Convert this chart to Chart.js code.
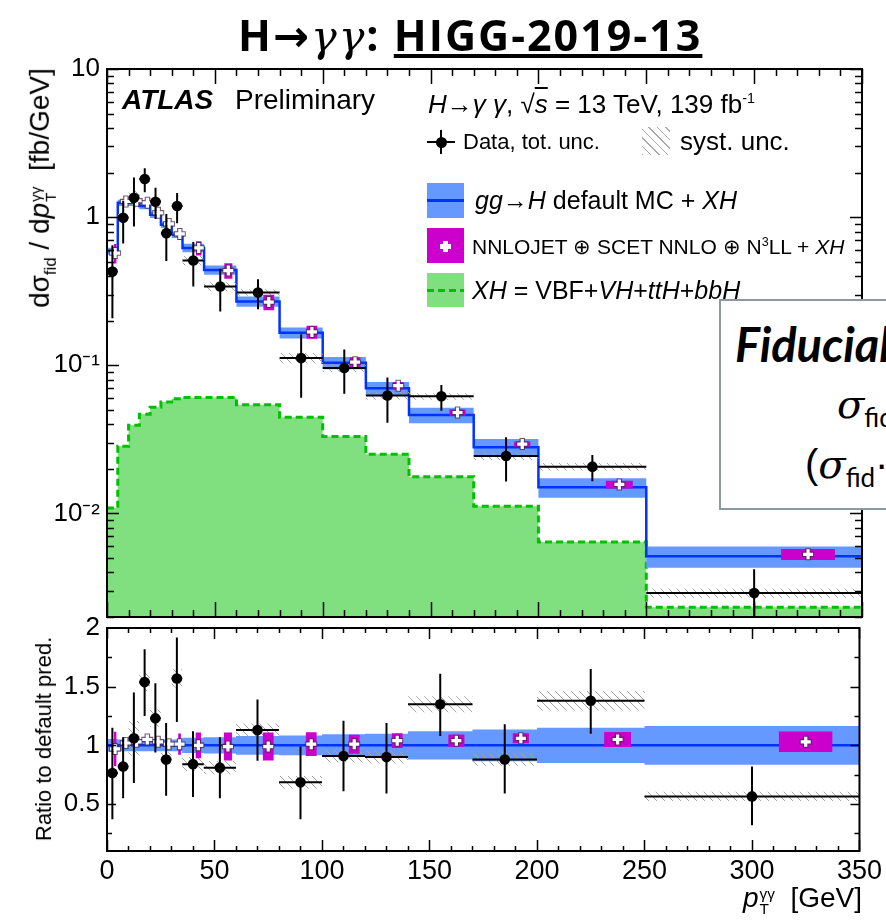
<!DOCTYPE html>
<html>
<head>
<meta charset="utf-8">
<title>H→γγ: HIGG-2019-13</title>
<script src="https://cdn.jsdelivr.net/npm/chart.js@4.4.1/dist/chart.umd.min.js"></script>
<style>
  html, body { margin: 0; padding: 0; background: #fff; }
  body { position: relative; width: 886px; height: 923px; overflow: hidden;
         font-family: 'Liberation Sans', Arial, Helvetica, sans-serif; color: #000; }
  canvas { position: absolute; left: 0; }
  #cTop { top: 0; }
  #cRatio { top: 600px; }
  .t { position: absolute; white-space: nowrap; line-height: 1; z-index: 5; }
  .m { font-family: 'DejaVu Serif', 'Liberation Serif', serif; font-style: italic; }
  .box { position: absolute; z-index: 5; }
  sub, sup { line-height: 0; }
  .ss { display: inline-flex; flex-direction: column; font-size: 0.55em; line-height: 1.0;
        vertical-align: 0.55em; margin-left: 1px; }
</style>
</head>
<body>
<canvas id="cTop" width="886" height="640"></canvas>
<canvas id="cRatio" width="886" height="323"></canvas>

<!-- page title -->
<div class="t" style="left:238px;top:5px;font:700 43px 'Open Sans',sans-serif;letter-spacing:2px;">H<span style="font-family:'DejaVu Sans'">→</span><span class="m" style="font-weight:400">γγ</span>: <u>HIGG-2019-13</u></div>

<!-- ATLAS label -->
<div class="t" style="left:122px;top:86px;font-size:28px;font-weight:700;font-style:italic;">ATLAS</div>
<div class="t" style="left:235px;top:86px;font-size:28px;">Preliminary</div>

<!-- legend -->
<div class="t" style="left:428px;top:91px;font-size:26px;"><i>H</i>→<i>γ γ</i>, √<span style="text-decoration:overline"><i>s</i></span> = 13 TeV, 139 fb<sup style="font-size:0.55em;vertical-align:0.7em">-1</sup></div>

<div class="box" style="left:427px;top:141px;width:28px;height:2px;background:#000"></div>
<div class="box" style="left:440px;top:130px;width:2px;height:24px;background:#000"></div>
<div class="box" style="left:436px;top:137px;width:11px;height:11px;border-radius:50%;background:#000"></div>
<div class="t" style="left:463px;top:131px;font-size:22px;">Data, tot. unc.</div>

<div class="box" style="left:642px;top:127px;width:28px;height:28px;background:repeating-linear-gradient(45deg, #aaa 0 1px, transparent 1px 6px);"></div>
<div class="t" style="left:680px;top:128px;font-size:26px;">syst. unc.</div>

<div class="box" style="left:427px;top:183px;width:37px;height:35px;background:#6699ff"></div>
<div class="box" style="left:427px;top:199px;width:37px;height:3px;background:#0033ff"></div>
<div class="t" style="left:475px;top:188px;font-size:25px;"><i>gg</i>→<i>H</i> default MC + <i>XH</i></div>

<div class="box" style="left:427px;top:228px;width:37px;height:35px;background:#cc00cc"></div>
<div class="box" style="left:443px;top:241px;width:5px;height:11px;background:#fff"></div>
<div class="box" style="left:440px;top:244px;width:11px;height:5px;background:#fff"></div>
<div class="t" style="left:472px;top:236px;font-size:21px;">NNLOJET ⊕ SCET NNLO ⊕ N<sup style="font-size:0.6em;vertical-align:0.6em">3</sup>LL + <i>XH</i></div>

<div class="box" style="left:427px;top:273px;width:37px;height:34px;background:#80e080"></div>
<div class="box" style="left:427px;top:289px;width:37px;height:3px;background:repeating-linear-gradient(90deg, #00c000 0 7px, transparent 7px 11px)"></div>
<div class="t" style="left:472px;top:278px;font-size:25px;"><i>XH</i> = VBF+<i>VH</i>+<i>ttH</i>+<i>bbH</i></div>

<!-- axis titles -->
<div class="t" style="left:42px;top:188px;font-size:28px;transform:translate(-50%,-50%) rotate(-90deg);">dσ<sub style="font-size:0.6em">fid</sub> / d<i>p</i><span class="ss"><span>γγ</span><span>T</span></span>&nbsp; [fb/GeV]</div>
<div class="t" style="left:44px;top:739px;font-size:22px;transform:translate(-50%,-50%) rotate(-90deg);">Ratio to default pred.</div>
<div class="t" style="right:24px;top:884px;font-size:28px;"><i>p</i><span class="ss"><span>γγ</span><span>T</span></span>&nbsp; [GeV]</div>

<!-- slide overlay box -->
<div style="position:absolute;left:719px;top:299px;width:240px;height:207px;border:2px solid #8c9a9a;background:#fff;z-index:6;">
  <div class="t" style="left:14px;top:15px;font:italic 700 47px Lato,sans-serif;">Fiducial</div>
  <div class="t" style="left:116px;top:83px;font-size:40px;"><span class="m">σ</span><sub style="font:26px Lato,sans-serif">fid</sub></div>
  <div class="t" style="left:84px;top:143px;font-size:40px;">(<span class="m">σ</span><sub style="font:26px Lato,sans-serif">fid</sub>·</div>
</div>

<script>
// ---- values ----
const binEdges = [0, 5, 10, 15, 20, 25, 30, 35, 45, 60, 80, 100, 120, 140, 170, 200, 250, 350];

// upper panel, dσ/dpT [fb/GeV]
const xhPred   = [0.0109, 0.0284, 0.0394, 0.0468, 0.052, 0.0565, 0.0595, 0.0607, 0.0607, 0.0541, 0.0446, 0.0331, 0.0251, 0.0177, 0.0112, 0.00642, 0.00233];
const mcPred   = [0.59, 1.25, 1.25, 1.19, 1.04, 0.89, 0.76, 0.62, 0.44, 0.27, 0.166, 0.104, 0.070, 0.0462, 0.0280, 0.0150, 0.00514];
const mcUnc    = [0.055, 0.05, 0.05, 0.05, 0.05, 0.05, 0.05, 0.065, 0.07, 0.08, 0.085, 0.095, 0.10, 0.12, 0.135, 0.15, 0.165];
const nnloPred = [0.572, 1.275, 1.29, 1.25, 1.07, 0.90, 0.77, 0.62, 0.436, 0.267, 0.168, 0.105, 0.0728, 0.048, 0.0294, 0.0157, 0.0053];
const nnloUnc  = [0.15, 0.04, 0.04, 0.03, 0.03, 0.04, 0.09, 0.11, 0.12, 0.12, 0.10, 0.08, 0.06, 0.05, 0.04, 0.06, 0.085];
const dataVal  = [0.43, 0.99, 1.35, 1.81, 1.27, 0.78, 1.19, 0.51, 0.34, 0.31, 0.112, 0.096, 0.0625, 0.0617, 0.0244, 0.0207, 0.0029];
const dataLo   = [0.208, 0.664, 0.866, 1.47, 0.97, 0.505, 0.91, 0.34, 0.231, 0.239, 0.0605, 0.0643, 0.041, 0.0494, 0.0164, 0.0165, 0.00164];
const dataHi   = [0.646, 1.29, 1.85, 2.14, 1.58, 1.05, 1.455, 0.68, 0.449, 0.381, 0.162, 0.128, 0.0826, 0.0736, 0.0327, 0.0248, 0.0042];
const systUnc  = [0.06, 0.06, 0.14, 0.05, 0.06, 0.07, 0.05, 0.07, 0.07, 0.05, 0.08, 0.06, 0.06, 0.05, 0.06, 0.06, 0.07];

// lower panel, ratio to default prediction
const ratioData = [0.765, 0.82, 1.06, 1.54, 1.23, 0.88, 1.57, 0.84, 0.81, 1.13, 0.685, 0.91, 0.90, 1.35, 0.88, 1.38, 0.565];
const ratioLo   = [0.37, 0.55, 0.68, 1.25, 0.94, 0.57, 1.20, 0.56, 0.55, 0.87, 0.37, 0.61, 0.59, 1.08, 0.59, 1.10, 0.32];
const ratioHi   = [1.15, 1.07, 1.45, 1.82, 1.53, 1.19, 1.92, 1.12, 1.07, 1.39, 0.99, 1.21, 1.19, 1.61, 1.18, 1.65, 0.82];
const ratioNnlo = [0.97, 1.02, 1.03, 1.05, 1.03, 1.01, 1.01, 1.00, 0.99, 0.99, 1.01, 1.01, 1.04, 1.04, 1.06, 1.05, 1.03];

// axes
const xTicks       = [0, 50, 100, 150, 200, 250, 300, 350];
const yTicksTop    = [0.01, 0.1, 1, 10];
const yLabelsTop   = ['10⁻²', '10⁻¹', '1', '10'];
const yTicksRatio  = [0.5, 1, 1.5, 2];
const yLabelsRatio = ['0.5', '1', '1.5', '2'];

const COLORS = {
  green: '#80e080',
  greenLine: '#00c000',
  band: '#6699ff',
  line: '#0033ff',
  magenta: '#cc00cc',
  font: "'Liberation Sans', Arial, sans-serif"
};

const nBins = binEdges.length - 1;
// Chart.js 'before' keeps each point's y until the next x
const STEP = 'before';

// histogram outline: one point per lower bin edge plus the closing edge
function stepLine(vals) {
  const pts = vals.map((v, i) => ({ x: binEdges[i], y: v }));
  pts.push({ x: binEdges[nBins], y: vals[nBins - 1] });
  return pts;
}

// boxes covering [fa, fb] of each bin; between boxes both edges collapse onto the centre value
function boxLines(center, unc, fa, fb) {
  const up = [], dn = [];
  center.forEach((v, i) => {
    const w = binEdges[i + 1] - binEdges[i];
    const a = binEdges[i] + fa * w, b = binEdges[i] + fb * w;
    up.push({ x: a, y: v * (1 + unc[i]) }, { x: b, y: v });
    dn.push({ x: a, y: v * (1 - unc[i]) }, { x: b, y: v });
  });
  return [up, dn];
}

function crossPoints(center) {
  return center.map((v, i) => ({ x: binEdges[i] + 0.75 * (binEdges[i + 1] - binEdges[i]), y: v }));
}

function markerPoints(vals) {
  return vals.map((v, i) => ({ x: (binEdges[i] + binEdges[i + 1]) / 2, y: v }));
}

// vertical (total unc.) and horizontal (bin width) bars, separated by gaps
function errorBars(vals, lo, hi) {
  const pts = [];
  vals.forEach((v, i) => {
    const c = (binEdges[i] + binEdges[i + 1]) / 2;
    pts.push({ x: c, y: lo[i] }, { x: c, y: hi[i] }, { x: c, y: null });
    pts.push({ x: binEdges[i], y: v }, { x: binEdges[i + 1], y: v }, { x: binEdges[i + 1], y: null });
  });
  return pts;
}

function hatch(canvasId) {
  const p = document.createElement('canvas');
  p.width = p.height = 8;
  const c = p.getContext('2d');
  c.strokeStyle = '#a4a4a4';
  c.lineWidth = 1;
  c.beginPath();
  c.moveTo(-1, -1); c.lineTo(9, 9);
  c.moveTo(-1, 7); c.lineTo(1, 9);
  c.moveTo(7, -1); c.lineTo(9, 1);
  c.stroke();
  return document.getElementById(canvasId).getContext('2d').createPattern(p, 'repeat');
}

function ds(data, extra) {
  return Object.assign({
    data, pointRadius: 0, borderWidth: 0, fill: false,
    stepped: false, spanGaps: false, tension: 0
  }, extra);
}

// frame and inward ticks, ROOT style
const rootFrame = {
  id: 'rootFrame',
  afterDraw(chart, args, o) {
    const { ctx, chartArea: a } = chart;
    const x = chart.scales.x, y = chart.scales.y;
    ctx.save();
    ctx.strokeStyle = '#000';
    ctx.lineWidth = 1.5;
    ctx.beginPath();
    for (let v = 0; v <= 350; v += 10) {
      const px = Math.round(x.getPixelForValue(v)) + 0.5;
      const len = v % 50 === 0 ? o.xMaj : o.xMin;
      ctx.moveTo(px, a.bottom); ctx.lineTo(px, a.bottom - len);
      ctx.moveTo(px, a.top); ctx.lineTo(px, a.top + len);
    }
    for (const t of o.yTicks) {
      const py = Math.round(y.getPixelForValue(t.v)) + 0.5;
      const len = t.major ? o.yMaj : o.yMin;
      ctx.moveTo(a.left, py); ctx.lineTo(a.left + len, py);
      ctx.moveTo(a.right, py); ctx.lineTo(a.right - len, py);
    }
    ctx.stroke();
    ctx.lineWidth = 2;
    ctx.strokeRect(a.left, a.top, a.right - a.left, a.bottom - a.top);
    ctx.restore();
  }
};

function yAxis(type, min, max, ticks, labels) {
  return {
    type, min, max,
    grid: { display: false, drawTicks: false },
    border: { display: false },
    ticks: {
      autoSkip: false, padding: 7, color: '#000',
      font: { family: COLORS.font, size: 26 },
      callback: v => { const k = ticks.indexOf(v); return k >= 0 ? labels[k] : ''; }
    },
    afterBuildTicks: s => { s.ticks = ticks.map(v => ({ value: v })); },
    afterFit: s => { s.width = 107; }
  };
}

// ---- upper panel ----
const logMinor = [];
[0.001, 0.01, 0.1, 1].forEach(d => {
  for (let k = 1; k <= 9; k++) {
    const v = k * d;
    if (v >= 0.002 && v <= 10) logMinor.push({ v, major: k === 1 });
  }
});
logMinor.push({ v: 10, major: true });

const [nnloUp, nnloDn] = boxLines(nnloPred, nnloUnc, 0.625, 0.875);
const hatchTop = hatch('cTop');

new Chart(document.getElementById('cTop'), {
  type: 'line',
  data: {
    datasets: [
      ds(stepLine(xhPred), { fill: 'start', backgroundColor: COLORS.green, borderColor: COLORS.greenLine,
        borderWidth: 3, borderDash: [7, 4], stepped: STEP, order: 20 }),
      ds(stepLine(mcPred.map((v, i) => v * (1 + mcUnc[i]))), { fill: '+1', backgroundColor: COLORS.band, stepped: STEP, order: 19 }),
      ds(stepLine(mcPred.map((v, i) => v * (1 - mcUnc[i]))), { stepped: STEP, order: 19 }),
      ds(stepLine(mcPred), { borderColor: COLORS.line, borderWidth: 2.5, stepped: STEP, order: 18 }),
      ds(stepLine(dataVal.map((v, i) => v * (1 + systUnc[i]))), { fill: '+1', backgroundColor: hatchTop, stepped: STEP, order: 17 }),
      ds(stepLine(dataVal.map((v, i) => v * (1 - systUnc[i]))), { stepped: STEP, order: 17 }),
      ds(nnloUp, { fill: '+1', backgroundColor: COLORS.magenta, stepped: STEP, order: 16 }),
      ds(nnloDn, { stepped: STEP, order: 16 }),
      ds(crossPoints(nnloPred), { showLine: false, pointStyle: 'cross', pointRadius: 6, pointBorderWidth: 5.5,
        pointBorderColor: 'rgba(70,40,70,0.75)', order: 15 }),
      ds(crossPoints(nnloPred), { showLine: false, pointStyle: 'cross', pointRadius: 5, pointBorderWidth: 3.2,
        pointBorderColor: '#fff', order: 14 }),
      ds(errorBars(dataVal, dataLo, dataHi), { borderColor: '#000', borderWidth: 2, order: 13 }),
      ds(markerPoints(dataVal), { showLine: false, pointRadius: 5.3, pointBackgroundColor: '#000',
        pointBorderColor: '#000', pointBorderWidth: 0, order: 12 })
    ]
  },
  options: {
    responsive: false,
    animation: false,
    events: [],
    layout: { padding: { top: 69, right: 24, bottom: 23, left: 0 } },
    plugins: {
      legend: { display: false },
      tooltip: { enabled: false },
      rootFrame: { xMaj: 15, xMin: 7, yMaj: 12, yMin: 7, yTicks: logMinor }
    },
    scales: {
      x: { type: 'linear', min: 0, max: 350, display: false },
      y: yAxis('logarithmic', 0.002, 10, yTicksTop, yLabelsTop)
    }
  },
  plugins: [rootFrame]
});

// ---- ratio panel ----
const ratioMinor = [0.25, 0.5, 0.75, 1, 1.25, 1.5, 1.75].map(v => ({ v, major: v % 0.5 === 0 }));
const [rNnloUp, rNnloDn] = boxLines(ratioNnlo, nnloUnc, 0.625, 0.875);
const unity = binEdges.map(x => ({ x, y: 1 }));
const hatchRatio = hatch('cRatio');

new Chart(document.getElementById('cRatio'), {
  type: 'line',
  data: {
    datasets: [
      ds(stepLine(mcUnc.map(u => 1 + u)), { fill: '+1', backgroundColor: COLORS.band, stepped: STEP, order: 19 }),
      ds(stepLine(mcUnc.map(u => 1 - u)), { stepped: STEP, order: 19 }),
      ds(unity, { borderColor: COLORS.line, borderWidth: 2.5, order: 18 }),
      ds(stepLine(ratioData.map((v, i) => v * (1 + systUnc[i]))), { fill: '+1', backgroundColor: hatchRatio, stepped: STEP, order: 17 }),
      ds(stepLine(ratioData.map((v, i) => v * (1 - systUnc[i]))), { stepped: STEP, order: 17 }),
      ds(rNnloUp, { fill: '+1', backgroundColor: COLORS.magenta, stepped: STEP, order: 16 }),
      ds(rNnloDn, { stepped: STEP, order: 16 }),
      ds(crossPoints(ratioNnlo), { showLine: false, pointStyle: 'cross', pointRadius: 6, pointBorderWidth: 5.5,
        pointBorderColor: 'rgba(70,40,70,0.75)', order: 15 }),
      ds(crossPoints(ratioNnlo), { showLine: false, pointStyle: 'cross', pointRadius: 5, pointBorderWidth: 3.2,
        pointBorderColor: '#fff', order: 14 }),
      ds(errorBars(ratioData, ratioLo, ratioHi), { borderColor: '#000', borderWidth: 2, order: 13 }),
      ds(markerPoints(ratioData), { showLine: false, pointRadius: 5.3, pointBackgroundColor: '#000',
        pointBorderColor: '#000', pointBorderWidth: 0, order: 12 })
    ]
  },
  options: {
    responsive: false,
    animation: false,
    events: [],
    layout: { padding: { top: 28, right: 24, bottom: 0, left: 0 } },
    plugins: {
      legend: { display: false },
      tooltip: { enabled: false },
      rootFrame: { xMaj: 11, xMin: 5, yMaj: 9, yMin: 5, yTicks: ratioMinor }
    },
    scales: {
      x: {
        type: 'linear', min: 0, max: 350,
        grid: { display: false, drawTicks: false },
        border: { display: false },
        ticks: {
          autoSkip: false, maxRotation: 0, padding: 4, color: '#000',
          font: { family: COLORS.font, size: 27 },
          callback: v => String(v)
        },
        afterBuildTicks: s => { s.ticks = xTicks.map(v => ({ value: v })); },
        afterFit: s => { s.height = 72; }
      },
      y: yAxis('linear', 0.1, 2, yTicksRatio, yLabelsRatio)
    }
  },
  plugins: [rootFrame]
});
</script>
</body>
</html>
